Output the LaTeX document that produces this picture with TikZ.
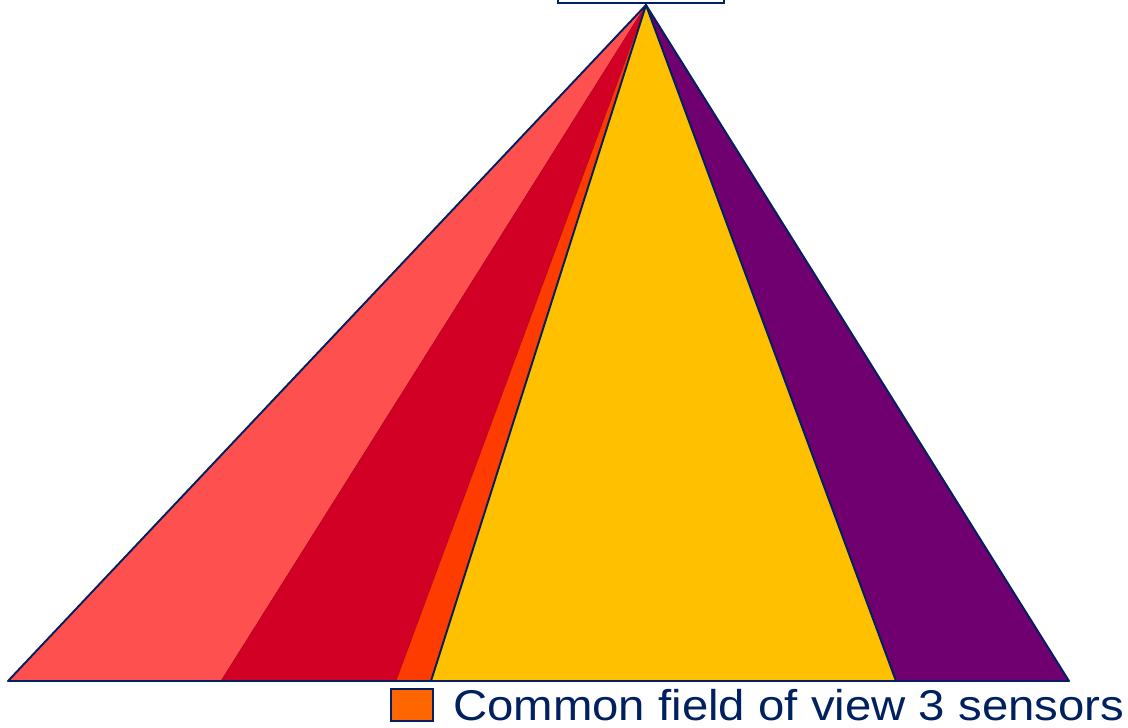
\documentclass[tikz,border=0pt]{standalone}
\usepackage{fontspec}
\setmainfont{Liberation Sans}
\usepackage{tikz}
\usetikzlibrary{positioning}
\definecolor{FovNavy}{HTML}{002060}
\definecolor{FovLightRed}{HTML}{FF5050}
\definecolor{FovDarkRed}{HTML}{D20024}
\definecolor{FovOrange}{HTML}{FF3C00}
\definecolor{FovYellow}{HTML}{FFC000}
\definecolor{FovPurple}{HTML}{700070}
\definecolor{FovKey}{HTML}{FF6600}
\begin{document}
\begin{tikzpicture}[
    x=0.02cm,y=-0.02cm,
    edge/.style={draw=FovNavy,line width=1.1pt,line join=round},
    sensorbox/.style={draw=FovNavy,line width=1.2pt,fill=white,minimum width=3.32cm,minimum height=1cm,inner sep=0pt},
    keybox/.style={draw=FovNavy,line width=1pt,fill=FovKey,minimum width=0.84cm,minimum height=0.64cm,inner sep=0pt},
    keytext/.style={text=FovNavy,font=\fontsize{24.5}{29}\selectfont,inner sep=0pt}
  ]
    \clip (0,0) rectangle (1128,727);
    \coordinate (apex) at (646,5);
    \coordinate (bl) at (8,681);
    \coordinate (b1) at (221,681);
    \coordinate (b2) at (396,681);
    \coordinate (b3) at (431,681);
    \coordinate (b4) at (896,681);
    \coordinate (br) at (1069,681);
    % wedges
    \fill[FovLightRed] (bl)--(apex)--(b1)--cycle;
    \fill[FovDarkRed] (b1)--(apex)--(b2)--cycle;
    \fill[FovOrange] (b2)--(apex)--(b3)--cycle;
    \fill[FovYellow] (b3)--(apex)--(b4)--cycle;
    \fill[FovPurple] (b4)--(apex)--(br)--cycle;
    \draw[FovDarkRed!80!black,line width=0.3pt] (b1)--(apex)--(b2);
    \draw[edge] (b3)--(apex)--(b4);
    \draw[edge] (bl)--(apex)--(br)--cycle;
    \node[sensorbox,anchor=south] (sensor) at (641,4) {};
    % legend
    \node[keybox] (key) at (412,705) {};
    \node[keytext,right=0.38cm of key] (keylabel) {\scalebox{1.1}[1]{Common field of view 3 sensors}};
  \end{tikzpicture}
\end{document}
